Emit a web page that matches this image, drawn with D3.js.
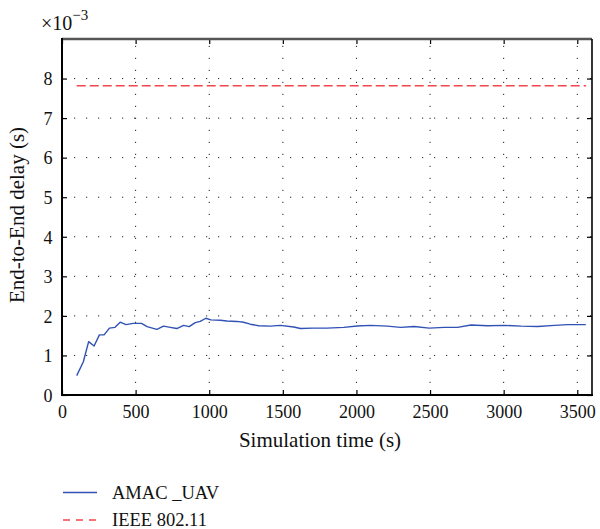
<!DOCTYPE html>
<html><head><meta charset="utf-8">
<script src="https://cdn.jsdelivr.net/npm/d3@7/dist/d3.min.js"></script>
<style>body{margin:0;background:#fff}svg{display:block}text{font-family:"Liberation Serif","Times New Roman",serif;fill:#111}</style>
</head><body><svg id="c" width="600" height="529"></svg>
<script>
const amacTime = [100,145,181,218,254,286,322,360,395,435,484,540,578,644,690,735,780,826,864,905,939,977,1011,1075,1120,1188,1233,1279,1335,1415,1483,1574,1620,1700,1800,1914,2005,2096,2210,2300,2392,2494,2596,2687,2778,2891,3005,3118,3231,3345,3435,3558];
const amacDelay = [0.49,0.84,1.35,1.24,1.52,1.52,1.69,1.71,1.84,1.78,1.81,1.81,1.73,1.66,1.74,1.71,1.68,1.76,1.73,1.83,1.86,1.94,1.90,1.89,1.87,1.86,1.84,1.79,1.75,1.74,1.76,1.72,1.68,1.69,1.69,1.71,1.745,1.76,1.74,1.71,1.73,1.69,1.71,1.71,1.77,1.75,1.76,1.74,1.73,1.76,1.78,1.78];
const ieeeTime = [100,3560];
const ieeeDelay = [7.82,7.82];
const xTicks = [0,500,1000,1500,2000,2500,3000,3500];
const yTicks = [0,1,2,3,4,5,6,7,8];
const seriesNames = ["AMAC _UAV","IEEE 802.11"];

const svg = d3.select("#c");
const L=62,R=592,T=39,B=395;
const x = d3.scaleLinear().domain([0,3600]).range([L,R]);
const y = d3.scaleLinear().domain([0,9]).range([B,T]);
const FF = "Liberation Serif";

// grid
const g = svg.append("g");
g.selectAll(".vg").data(xTicks.filter(d=>d>0)).join("line")
 .attr("x1",d=>x(d)).attr("x2",d=>x(d)).attr("y1",B).attr("y2",T)
 .attr("stroke","#222").attr("stroke-width",1).attr("stroke-dasharray","1.2,10.8");
g.selectAll(".hg").data(yTicks.filter(d=>d>0)).join("line")
 .attr("y1",d=>y(d)).attr("y2",d=>y(d)).attr("x1",L).attr("x2",R)
 .attr("stroke","#222").attr("stroke-width",1).attr("stroke-dasharray","1.2,10.8");

// series
const line = d3.line().x(d=>x(d[0])).y(d=>y(d[1]));
svg.append("path").datum(ieeeTime.map((t,i)=>[t,ieeeDelay[i]]))
 .attr("d",line).attr("fill","none").attr("stroke","#f2474c").attr("stroke-width",1.6).attr("stroke-dasharray","9,4");
svg.append("path").datum(amacTime.map((t,i)=>[t,amacDelay[i]]))
 .attr("d",line).attr("fill","none").attr("stroke","#3052b5").attr("stroke-width",1.4).attr("stroke-linejoin","round");

// axes
const xa = svg.append("g").attr("transform",`translate(0,${B})`)
 .call(d3.axisBottom(x).tickValues(xTicks).tickSize(-5).tickPadding(10).tickFormat(d3.format("d")));
const xt = svg.append("g").attr("transform",`translate(0,${T})`)
 .call(d3.axisTop(x).tickValues(xTicks).tickSize(-5).tickFormat(""));
const ya = svg.append("g").attr("transform",`translate(${L},0)`)
 .call(d3.axisLeft(y).tickValues(yTicks).tickSize(-5).tickPadding(9.5).tickFormat(d3.format("d")));
const yr = svg.append("g").attr("transform",`translate(${R},0)`)
 .call(d3.axisRight(y).tickValues(yTicks).tickSize(-5).tickFormat(""));
[xa,xt,ya,yr].forEach(a=>{a.select(".domain").remove();a.selectAll("line").attr("stroke","#000").attr("stroke-width",1.2);});
[xa,ya].forEach(a=>{a.attr("font-family",FF).attr("font-size",18);a.selectAll("text").style("font-size","18px").style("font-family",FF).attr("fill","#111");});
ya.selectAll("text").attr("dy","0.35em");
// frame
svg.append("line").attr("x1",L).attr("x2",R).attr("y1",T).attr("y2",T).attr("stroke","#555").attr("stroke-width",2.4);
svg.append("line").attr("x1",R).attr("x2",R).attr("y1",T).attr("y2",B).attr("stroke","#000").attr("stroke-width",1.6);
svg.append("line").attr("x1",L).attr("x2",L).attr("y1",T-1).attr("y2",B+1).attr("stroke","#000").attr("stroke-width",2);
svg.append("line").attr("x1",L-1).attr("x2",R+1).attr("y1",B).attr("y2",B).attr("stroke","#000").attr("stroke-width",2);

// labels
svg.append("text").attr("x",320).attr("y",447).attr("text-anchor","middle").style("font-size","21px").text("Simulation time (s)");
svg.append("text").attr("transform",`translate(24,215) rotate(-90)`).attr("text-anchor","middle").style("font-size","21px").text("End-to-End delay (s)");
const ex = svg.append("text").attr("x",41).attr("y",30).style("font-size","20px");
ex.append("tspan").text("×10");
ex.append("tspan").attr("dy",-10).style("font-size","15px").text("−3");

// legend
const lg = svg.append("g");
lg.append("line").attr("x1",63).attr("x2",97).attr("y1",492.5).attr("y2",492.5).attr("stroke","#3052b5").attr("stroke-width",1.4);
lg.append("text").attr("x",112).attr("y",498.5).style("font-size","18.5px").text(seriesNames[0]);
lg.append("line").attr("x1",63).attr("x2",97).attr("y1",520).attr("y2",520).attr("stroke","#f2474c").attr("stroke-width",1.4).attr("stroke-dasharray","7,6");
lg.append("text").attr("x",112).attr("y",526).style("font-size","18.5px").text(seriesNames[1]);
</script></body></html>
